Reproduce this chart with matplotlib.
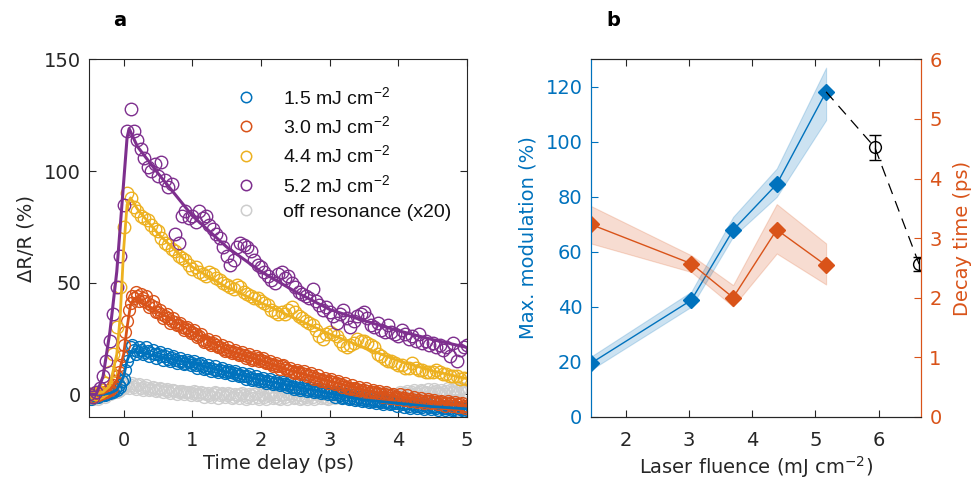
import numpy as np
import matplotlib
matplotlib.use("Agg")
import matplotlib.pyplot as plt
from matplotlib.lines import Line2D

plt.rcParams['font.family'] = ['DejaVu Sans']
plt.rcParams['mathtext.default'] = 'regular'

# ---------------- Panel a data ----------------
time_ps = np.round(np.arange(111) * 0.05 - 0.5, 3)      # -0.5 ... 5.0 ps, scan 1 grid
time_ps_b = np.round(np.arange(110) * 0.05 - 0.475, 3)  # -0.475 ... 4.975 ps, scan 2 grid

dr_15 = [-1, -1, -1, 0, 0, 0, 0.5, 1, 2, 3.5,
         7, 15, 21, 20, 19.5, 20, 19, 19.5, 18.5, 18,
         18, 17, 17, 16, 16.5, 15.5, 15, 15, 14, 14.5,
         14, 13, 13.5, 12.5, 12, 12, 11.5, 11, 11, 10.5,
         10, 10, 9.5, 9, 8.5, 8, 8, 7.5, 7, 7,
         6.5, 6, 6, 5.5, 5, 5, 4.5, 4.5, 4, 3.5,
         3.5, 3, 3, 2.5, 2, 2, 1.5, 1.5, 1, 1,
         0.5, 0, 0, -0.5, -1, -1, -1.5, -1.5, -2, -2,
         -2.5, -2.5, -3, -3, -3, -3.5, -3.5, -3.5, -4, -4,
         -4, -4.5, -4.5, -5, -4.5, -5, -5, -5.5, -5, -5.5,
         -5.5, -6, -5.5, -6, -6, -6, -6.5, -6, -6.5, -6.5,
         -7]
dr_15_b = [-2, 0, -1, 1, -0.5, 1, 1.5, 2.5, 4, 6,
           11, 17, 22, 18, 21, 18, 21, 17, 20, 16.5,
           19, 15.5, 18, 15, 17, 14, 16.5, 13.5, 15.5, 13,
           15, 12, 14, 11.5, 13, 10.5, 12.5, 10, 12, 9.5,
           11, 8.5, 10.5, 8, 9.5, 7, 9, 6.5, 8, 6,
           7.5, 5, 7, 4.5, 6, 4, 5.5, 3.5, 5, 2.5,
           4.5, 2, 4, 1.5, 3, 1, 2.5, 0.5, 2, 0,
           1.5, -1, 1, -1.5, 0, -2, -0.5, -2.5, -1, -3,
           -1.5, -3.5, -2, -4, -2.5, -4.5, -3, -4.5, -3, -5,
           -3.5, -5.5, -4, -6, -4, -6, -4.5, -6.5, -4.5, -6.5,
           -5, -7, -5, -7, -5.5, -7, -5.5, -7.5, -6, -7.5]

dr_30 = [-0.5, -1, 0, 0, 0.5, 1, 2, 4, 8, 13,
         22, 33, 41, 43, 44, 45, 42, 41, 40, 39,
         37, 36, 35, 34, 33, 32.5, 31, 30, 29.5, 29,
         28, 27, 26, 24.5, 24, 23, 23, 22, 21, 20.5,
         20, 19.5, 19, 18.5, 18, 17.5, 17, 16.5, 16, 16.5,
         15.5, 15, 14, 13.5, 13, 12.5, 12.5, 12, 11, 10.5,
         10, 10, 9.5, 9, 8.5, 8, 7.5, 7, 6.5, 6,
         6, 5.5, 5, 4.5, 4, 3.5, 3, 3, 2.5, 2,
         2, 1.5, 1, 1, 0.5, 0, 0, -0.5, -0.5, -1,
         -1, -1.5, -1.5, -2, -2, -2.5, -2.5, -3, -3, -3,
         -3.5, -3.5, -3.5, -4, -4, -4, -4.5, -4.5, -4.5, -5,
         -5]
dr_30_b = [-1, 0.5, -0.5, 1, 1, 2, 3, 6, 10, 17,
           28, 38, 44, 46, 42, 43, 44, 39, 42, 37,
           38, 34, 36, 32, 34, 31, 32, 29, 30, 27.5,
           29, 25.5, 27, 23.5, 25, 22, 24, 21, 22, 19.5,
           21, 18.5, 20, 17.5, 19, 16.5, 18, 15.5, 17, 15,
           16.5, 14, 15, 12.5, 14, 11.5, 13, 11, 12, 9.5,
           11, 9, 10.5, 8, 9.5, 7, 8.5, 6, 7.5, 5,
           7, 4.5, 6, 3.5, 5, 2.5, 4, 2, 3.5, 1,
           3, 0.5, 2, 0, 1.5, -1, 1, -1.5, 0, -2,
           0, -2.5, -0.5, -3, -1, -3.5, -1.5, -4, -2, -4,
           -2.5, -4.5, -3, -5, -3, -5, -3.5, -5.5, -4, -6]

dr_44 = [0, -1, 0, 1, 2, 5, 10, 18, 30, 48,
         75, 90, 88, 84, 82, 80, 79, 78, 76, 74,
         73, 70, 68, 67, 65, 64, 62, 61, 60, 58,
         56, 57, 55, 54, 53, 55, 54, 52, 51, 50,
         49, 48, 47, 49, 48, 46, 45, 44, 43, 43,
         42, 41, 40, 38, 37, 36, 37, 36, 38, 39,
         37, 35, 34, 33, 32, 31, 29, 26, 25, 27,
         28, 27, 26, 24, 22, 21, 22, 23, 25, 24,
         24, 23, 22, 21, 18, 17, 16, 15, 15, 14,
         13, 13, 12, 12, 14, 12, 11, 11, 10, 10,
         10, 11, 10, 9, 9, 8, 8, 8, 7, 7.5,
         7]

dr_52 = [0, -1, 1, 3, 8, 15, 24, 36, 48, 62,
         85, 118, 128, 118, 114, 110, 106, 102, 100, 103,
         98, 104, 96, 93, 94, 72, 68, 80, 82, 79,
         80, 77, 82, 79, 80, 76, 74, 72, 70, 66,
         62, 58, 60, 66, 68, 67, 66, 64, 60, 58,
         57, 55, 53, 51, 50, 54, 55, 52, 53, 50,
         48, 46, 45, 44, 43, 47, 42, 40, 38, 39,
         37, 35, 32, 36, 38, 34, 30, 33, 35, 36,
         37, 34, 31, 30, 32, 29, 28, 31, 28, 27,
         26, 29, 27, 25, 26, 24, 27, 23, 24, 22,
         23, 21, 22, 20, 21, 17, 23, 15, 20, 21,
         22]

dr_off = [-1, -2, -1, -1, 0, 0, 0, 1, 1, 2,
          3, 4, 4, 3.5, 4, 3, 3.5, 3, 2.5, 3,
          2, 2.5, 2, 1.5, 2, 1.5, 1, 1.5, 1, 1,
          0.5, 1, 0, 0.5, 0, -0.5, 0, 0.5, -0.5, 0,
          -0.5, 0, -1, -0.5, 0, -0.5, -1, -0.5, 0, -1,
          -0.5, -1, -0.5, 0, -1, -1.5, -0.5, -1, 0, -0.5,
          -1, -0.5, -1.5, -1, -0.5, -1, 0, -0.5, -1, -1.5,
          -1, -0.5, 0, -0.5, -1, -0.5, 0, 0.5, -0.5, 0,
          -0.5, 0, -1, -0.5, -1, -0.5, 0, -0.5, -1, -0.5,
          -0.5, 0, 0.5, 0, 1, 0.5, 1, 1.5, 1, 0.5,
          1, 1.5, 0.5, 1, 1.5, 2, 1, 1.5, 2, 1.5,
          1]
dr_off_b = [-1.5, -0.5, -2, 0, -1, 1, 0.5, 2, 1.5, 3,
            4.5, 3, 5, 2.5, 4.5, 2, 4, 2, 3.5, 1.5,
            3, 1, 2.5, 0.5, 2, 0, 1.5, 0, 1, -0.5,
            1.5, -0.5, 1, -1, 0.5, -1, 1, -1.5, 0.5, -1,
            0.5, -1.5, 0, -1.5, 0.5, -2, 0, -1.5, 0.5, -2,
            0, -2, 0.5, -1.5, 0, -2, 0, -2, 0.5, -1.5,
            0, -2, -0.5, -2, 0, -2, 0.5, -1.5, 0, -2,
            0, -1.5, 0.5, -1.5, 0, -1.5, 1, -1, 0.5, -1,
            0.5, -1.5, 0, -1.5, 0, -1.5, 0.5, -1.5, 0, -1.5,
            1, -1, 1.5, -0.5, 2, 0, 2, 0.5, 2.5, 0,
            2.5, 0.5, 2, 0, 3, 1, 2.5, 0.5, 3, 1]

# fitted curves
fit_t_15 = [-0.5, -0.3, -0.2, -0.1, 0, 0.05, 0.1, 0.2, 0.5, 1, 1.5, 2, 2.5, 3, 3.5, 4, 4.5, 5]
fit_15 = [0, 0, 0.5, 2, 8, 15, 19, 19, 17, 14, 10, 6.5, 3.5, 0.5, -2.5, -4, -5.5, -6.5]
fit_t_30 = [-0.5, -0.3, -0.2, -0.1, 0, 0.05, 0.1, 0.15, 0.2, 0.5, 1, 1.5, 2, 2.5, 3, 3.5, 4, 4.5, 5]
fit_30 = [0, 0.5, 2, 6, 18, 30, 40, 43, 42, 37, 28, 20, 15, 10, 6, 2, -1, -3.5, -5]
fit_t_44 = [-0.5, -0.3, -0.2, -0.1, -0.05, 0, 0.05, 0.1, 0.2, 0.5, 1, 1.5, 2, 2.5, 3, 3.5, 4, 4.5, 5]
fit_44 = [0, 1, 4, 18, 35, 65, 85, 88, 83, 72, 57, 48, 41, 34, 27, 21, 15, 10.5, 7]
fit_t_52 = [-0.5, -0.4, -0.3, -0.2, -0.1, 0, 0.05, 0.08, 0.2, 0.5, 1, 1.5, 2, 2.5, 3, 3.5, 4, 4.5, 5]
fit_52 = [0, 0, 8, 28, 55, 95, 115, 119, 111, 99, 80, 66, 55, 46, 38, 33, 28.5, 24.5, 21]

legend_labels = ['1.5 mJ cm$^{-2}$', '3.0 mJ cm$^{-2}$', '4.4 mJ cm$^{-2}$',
                 '5.2 mJ cm$^{-2}$', 'off resonance (x20)']

# ---------------- Panel b data ----------------
fluence = [1.45, 3.04, 3.70, 4.39, 5.17]
max_mod = [19.4, 42.4, 67.9, 84.6, 118.2]
max_mod_lo = [17, 40, 65.5, 80, 107.9]
max_mod_hi = [21.8, 45.5, 72.7, 90.3, 127]
decay = [3.23, 2.57, 2.0, 3.14, 2.54]
decay_lo = [2.91, 2.43, 1.85, 2.74, 2.22]
decay_hi = [3.54, 2.71, 2.21, 3.57, 2.91]
extra_fluence = [5.94, 6.64]
extra_mod = [98, 55.5]
extra_err = [4.5, 2.5]

C_BLUE = '#0072BD'
C_ORANGE = '#D95319'
C_YELLOW = '#EDB120'
C_PURPLE = '#7E2F8E'
C_GRAY = '#CDCDCD'
C_AX = '#262626'
FS = 14

fig = plt.figure(figsize=(9.74, 4.83), dpi=100)

# ---------------- Panel a ----------------
axa = fig.add_axes([0.0917, 0.1373, 0.3878, 0.7397])
ms = 8.5
mew = 1.0
axa.plot(time_ps, dr_off, 'o', mfc='none', mec=C_GRAY, ms=ms, mew=mew)
axa.plot(time_ps_b, dr_off_b, 'o', mfc='none', mec=C_GRAY, ms=ms, mew=mew)
axa.plot(time_ps, dr_15, 'o', mfc='none', mec=C_BLUE, ms=ms, mew=mew)
axa.plot(time_ps_b, dr_15_b, 'o', mfc='none', mec=C_BLUE, ms=ms, mew=mew)
axa.plot(time_ps, dr_30, 'o', mfc='none', mec=C_ORANGE, ms=ms, mew=mew)
axa.plot(time_ps_b, dr_30_b, 'o', mfc='none', mec=C_ORANGE, ms=ms, mew=mew)
axa.plot(time_ps, dr_44, 'o', mfc='none', mec=C_YELLOW, ms=9, mew=mew)
axa.plot(time_ps, dr_52, 'o', mfc='none', mec=C_PURPLE, ms=9, mew=mew)
axa.plot(fit_t_15, fit_15, '-', color=C_BLUE, lw=2)
axa.plot(fit_t_30, fit_30, '-', color=C_ORANGE, lw=2)
axa.plot(fit_t_44, fit_44, '-', color=C_YELLOW, lw=2)
axa.plot(fit_t_52, fit_52, '-', color=C_PURPLE, lw=2.2)

axa.set_xlim(-0.5, 5)
axa.set_ylim(-10, 150)
axa.set_xticks([0, 1, 2, 3, 4, 5])
axa.set_yticks([0, 50, 100, 150])
axa.set_xlabel('Time delay (ps)', fontsize=FS, color=C_AX, labelpad=3)
axa.set_ylabel('ΔR/R (%)', fontsize=FS, color=C_AX, labelpad=6)
axa.tick_params(direction='in', top=True, right=True, length=5, width=0.8,
                labelsize=FS, colors=C_AX)
axa.tick_params(axis='x', pad=10)
axa.tick_params(axis='y', pad=6)
for sp in axa.spines.values():
    sp.set_color(C_AX)
    sp.set_linewidth(0.8)

handles = [Line2D([], [], ls='none', marker='o', mfc='none', mec=c, ms=7.5, mew=1.1)
           for c in [C_BLUE, C_ORANGE, C_YELLOW, C_PURPLE, C_GRAY]]
leg = axa.legend(handles, legend_labels, loc='upper left', bbox_to_anchor=(0.342, 0.975),
                 frameon=False, handlelength=1.0, handletextpad=1.4, labelspacing=0.38,
                 prop={'family': 'Liberation Sans', 'size': 14})
for t in leg.get_texts():
    t.set_color('#111111')

# ---------------- Panel b ----------------
axb = fig.add_axes([0.6065, 0.1373, 0.3391, 0.7397])
axr = axb.twinx()

axb.fill_between(fluence, max_mod_lo, max_mod_hi, color=C_BLUE, alpha=0.2, lw=0.8)
axb.plot(fluence, max_mod, '-', color=C_BLUE, lw=1.0, marker='D', ms=8, mfc=C_BLUE, mec=C_BLUE)
axb.plot([fluence[-1]] + extra_fluence, [max_mod[-1]] + extra_mod, '--', color='k',
         lw=0.9, dashes=(9, 6))
axb.errorbar(extra_fluence, extra_mod, yerr=extra_err, fmt='o', mfc='none', mec='k',
             ecolor='k', ms=8.5, mew=1.0, elinewidth=1.0, capsize=4, capthick=1.0)

axr.fill_between(fluence, decay_lo, decay_hi, color=C_ORANGE, alpha=0.2, lw=0.8)
axr.plot(fluence, decay, '-', color=C_ORANGE, lw=1.0, marker='D', ms=8, mfc=C_ORANGE, mec=C_ORANGE)

axb.set_xlim(1.45, 6.67)
axb.set_ylim(0, 130)
axr.set_ylim(0, 6)
axb.set_xticks([2, 3, 4, 5, 6])
axb.set_yticks([0, 20, 40, 60, 80, 100, 120])
axr.set_yticks([0, 1, 2, 3, 4, 5, 6])
axb.set_xlabel('Laser fluence (mJ cm$^{-2}$)', fontsize=FS, color=C_AX, labelpad=3)
axb.set_ylabel('Max. modulation (%)', fontsize=FS, color=C_BLUE, labelpad=6)
axr.set_ylabel('Decay time (ps)', fontsize=FS, color=C_ORANGE, labelpad=8)

axb.tick_params(axis='x', direction='in', top=True, length=5, width=0.8,
                labelsize=FS, colors=C_AX, pad=10)
axb.tick_params(axis='y', direction='in', length=5, width=0.8,
                labelsize=FS, colors=C_BLUE, pad=6)
axr.tick_params(axis='y', direction='in', length=5, width=0.8,
                labelsize=FS, colors=C_ORANGE, pad=6)
for ax in (axb, axr):
    ax.spines['top'].set_color(C_AX)
    ax.spines['bottom'].set_color(C_AX)
    ax.spines['left'].set_color(C_BLUE)
    ax.spines['right'].set_color(C_ORANGE)
    for sp in ax.spines.values():
        sp.set_linewidth(0.8)

fig.text(0.123, 0.957, 'a', fontsize=14, fontweight='bold', ha='center', va='center')
fig.text(0.630, 0.957, 'b', fontsize=14, fontweight='bold', ha='center', va='center')

fig.savefig('out.png', dpi=100)
